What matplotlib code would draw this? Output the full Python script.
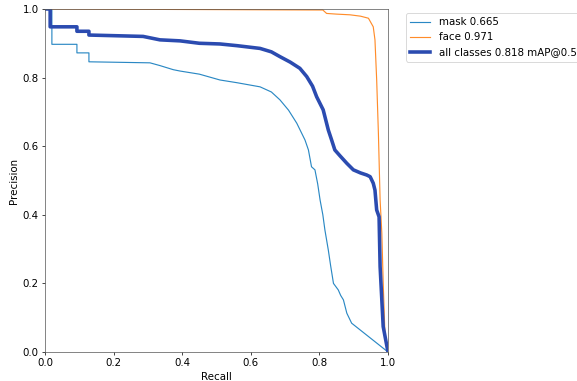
import matplotlib
matplotlib.use("Agg")
import matplotlib.pyplot as plt

# Series values
mask_recall = [0.0, 0.02, 0.02, 0.093, 0.093, 0.128, 0.128, 0.306, 0.335, 0.374, 0.394, 0.45,
               0.51, 0.56, 0.627, 0.66, 0.685, 0.71, 0.734, 0.758, 0.768, 0.777, 0.787, 0.795,
               0.802, 0.81, 0.816, 0.826, 0.833, 0.841, 0.855, 0.862, 0.87, 0.88, 0.894, 1.0]
mask_precision = [1.0, 1.0, 0.897, 0.897, 0.872, 0.872, 0.846, 0.843, 0.835, 0.823, 0.819, 0.81,
                  0.793, 0.785, 0.773, 0.758, 0.735, 0.705, 0.667, 0.618, 0.589, 0.54, 0.531, 0.49,
                  0.443, 0.40, 0.356, 0.297, 0.25, 0.20, 0.181, 0.165, 0.152, 0.113, 0.084, 0.0]

face_recall = [0.0, 0.81, 0.821, 0.85, 0.889, 0.92, 0.943, 0.957, 0.962, 0.967, 0.972, 0.977,
               0.982, 0.986, 0.991, 1.0]
face_precision = [1.0, 0.997, 0.987, 0.985, 0.983, 0.979, 0.973, 0.948, 0.91, 0.793, 0.638, 0.443,
                  0.347, 0.201, 0.055, 0.0]

all_recall = [0.0, 0.015, 0.015, 0.093, 0.093, 0.128, 0.128, 0.286, 0.335, 0.394, 0.45, 0.51,
              0.56, 0.627, 0.66, 0.685, 0.715, 0.743, 0.763, 0.78, 0.792, 0.811, 0.826, 0.835,
              0.845, 0.86, 0.88, 0.899, 0.92, 0.938, 0.948, 0.957, 0.962, 0.967, 0.974, 0.977,
              0.982, 0.986, 1.0]
all_precision = [1.0, 1.0, 0.948, 0.948, 0.935, 0.935, 0.924, 0.92, 0.91, 0.907, 0.90, 0.898,
                 0.893, 0.885, 0.875, 0.861, 0.845, 0.827, 0.803, 0.775, 0.744, 0.706, 0.647, 0.62,
                 0.589, 0.572, 0.55, 0.531, 0.522, 0.516, 0.511, 0.492, 0.472, 0.414, 0.394, 0.249,
                 0.152, 0.074, 0.0]

labels = ["mask 0.665", "face 0.971", "all classes 0.818 mAP@0.5"]

plt.rcParams["font.size"] = 11.5
fig = plt.figure(figsize=(9, 5.933), dpi=64.22)
ax = fig.add_axes([0.0779, 0.0761, 0.5934, 0.9003])
ax.plot(mask_recall, mask_precision, linewidth=1.3, color="#2a88c4", label=labels[0])
ax.plot(face_recall, face_precision, linewidth=1.3, color="#ff8c2a", label=labels[1])
ax.plot(all_recall, all_precision, linewidth=4, color="#2b4bb0", label=labels[2])
ax.set_xlabel("Recall")
ax.set_ylabel("Precision")
ax.set_xlim(0, 1)
ax.set_ylim(0, 1)
for s in ax.spines.values():
    s.set_color("#555555")
ax.legend(bbox_to_anchor=(1.04, 1), loc="upper left", borderaxespad=0.4)
fig.savefig("out.png", dpi=64.22)
